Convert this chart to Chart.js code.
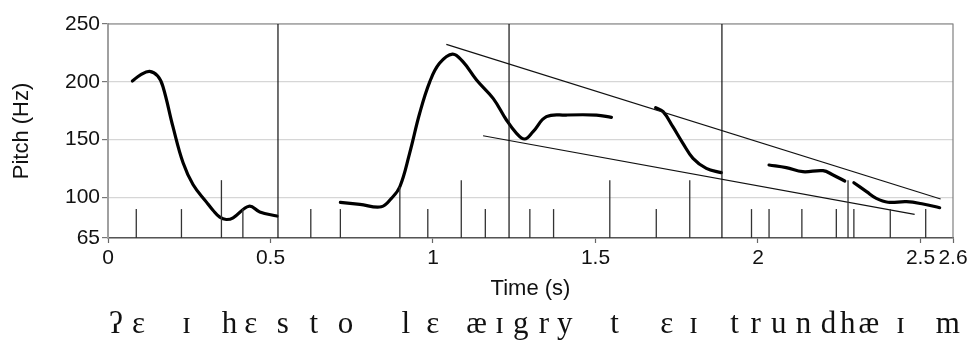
<!DOCTYPE html>
<html>
<head>
<meta charset="utf-8">
<script src="https://cdn.jsdelivr.net/npm/chart.js@4.4.0/dist/chart.umd.min.js"></script>
<style>
html,body{margin:0;padding:0;background:#fff;}
#wrap{width:974px;height:341px;}
</style>
</head>
<body>
<div id="wrap"><canvas id="c" width="974" height="341"></canvas></div>
<script>
// ---- data ----
const xTicks = [0, 0.5, 1, 1.5, 2, 2.5, 2.6];
const yTicks = [65, 100, 150, 200, 250];
const yMin = 65, yMax = 250, xMin = 0, xMax = 2.6;

const seg1T  = [0.075, 0.10, 0.128, 0.153, 0.169, 0.20, 0.231, 0.262, 0.303, 0.323, 0.344, 0.364, 0.385, 0.434, 0.467, 0.52];
const seg1Hz = [200.7, 206, 209, 205, 196, 161, 130, 111, 96, 89, 83, 81, 82.5, 92.5, 87.5, 84];
const seg2T  = [0.715, 0.775, 0.841, 0.872, 0.898, 0.928, 0.959, 0.99, 1.02, 1.06, 1.092, 1.134, 1.185, 1.226, 1.257, 1.282, 1.308, 1.349, 1.41, 1.503, 1.549];
const seg2Hz = [95.8, 94.1, 92, 99.3, 109.3, 138.2, 172.8, 200, 216, 224, 217.4, 201.6, 185.7, 167, 155.5, 150.6, 157, 169.9, 171.3, 171.3, 169.3];
const seg3T  = [1.685, 1.708, 1.738, 1.769, 1.8, 1.841, 1.887];
const seg3Hz = [177.6, 174.2, 161.2, 146.8, 133.9, 125.2, 121.5];
const seg4T  = [2.034, 2.087, 2.138, 2.2, 2.231, 2.267];
const seg4Hz = [128.1, 125.8, 122.3, 123.2, 119.5, 114.3];
const seg5T  = [2.295, 2.334, 2.364, 2.4, 2.457, 2.508, 2.559];
const seg5Hz = [112.8, 105.1, 99.3, 95.9, 96.4, 94.4, 91.2];

// segment boundary marks: time and top value (Hz)
const boundT   = [0.087, 0.226, 0.349, 0.415, 0.624, 0.715, 0.898, 0.984, 1.087, 1.161, 1.298, 1.371, 1.544, 1.687, 1.79, 1.98, 2.034, 2.135, 2.241, 2.277, 2.295, 2.407, 2.516];
const boundTop = [90, 90, 115, 90, 90, 90, 109, 90, 115, 90, 90, 90, 115, 90, 115, 90, 90, 90, 90, 115, 90, 90, 90];
// full-height phrase boundaries
const phraseT = [0.523, 1.234, 1.889];

// declination lines
const upperLineT = [1.041, 2.562], upperLineHz = [232.4, 98.7];
const lowerLineT = [1.154, 2.482], lowerLineHz = [153.4, 85.5];

// transcription
const phones  = ['ʔ','ɛ','ɪ','h','ɛ','s','t','o','l','ɛ','æ','ɪ','g','r','y','t','ɛ','ɪ','t','r','u','n','d','h','æ','ɪ','m'];
const phoneT  = [0.024,0.094,0.242,0.374,0.439,0.538,0.633,0.731,0.916,0.999,1.134,1.205,1.270,1.341,1.405,1.559,1.719,1.802,1.928,1.993,2.064,2.140,2.217,2.276,2.341,2.439,2.584];

// ---- build datasets ----
const zip = (t, v) => t.map((x, i) => ({x: x, y: v[i]}));
const datasets = [];
phraseT.forEach(t => datasets.push({data: [{x:t,y:yMin},{x:t,y:yMax}], borderColor:'#111', borderWidth:1.2, pointRadius:0, tension:0}));
boundT.forEach((t, i) => datasets.push({data: [{x:t,y:yMin},{x:t,y:boundTop[i]}], borderColor:'#333', borderWidth:1.3, pointRadius:0, tension:0}));
datasets.push({data: zip(upperLineT, upperLineHz), borderColor:'#111', borderWidth:1.2, pointRadius:0, tension:0});
datasets.push({data: zip(lowerLineT, lowerLineHz), borderColor:'#111', borderWidth:1.2, pointRadius:0, tension:0});
[[seg1T,seg1Hz],[seg2T,seg2Hz],[seg3T,seg3Hz],[seg4T,seg4Hz],[seg5T,seg5Hz]].forEach(([t,v]) =>
  datasets.push({data: zip(t, v), borderColor:'#000', borderWidth:3.2, pointRadius:0, tension:0.4, borderCapStyle:'round', borderJoinStyle:'round'}));

const framePlugin = {
  id: 'frame',
  beforeDatasetsDraw(chart) {
    const {ctx, chartArea: a} = chart;
    ctx.save();
    ctx.strokeStyle = '#808080';
    ctx.lineWidth = 1.2;
    ctx.beginPath();
    ctx.moveTo(a.left, a.top); ctx.lineTo(a.right, a.top); ctx.lineTo(a.right, a.bottom);
    ctx.stroke();
    ctx.restore();
  }
};
const phonePlugin = {
  id: 'phones',
  afterDraw(chart) {
    const {ctx} = chart;
    const xs = chart.scales.x;
    ctx.save();
    ctx.font = '31px "Liberation Serif", "DejaVu Serif", serif';
    ctx.fillStyle = '#111';
    ctx.textAlign = 'center';
    ctx.textBaseline = 'alphabetic';
    phones.forEach((p, i) => ctx.fillText(p, xs.getPixelForValue(phoneT[i]), 333));
    ctx.restore();
  }
};

const tickFont = {family: '"Liberation Sans", Arial, sans-serif', size: 21};
const titleFont = {family: '"Liberation Sans", Arial, sans-serif', size: 22};

new Chart(document.getElementById('c'), {
  type: 'line',
  data: {datasets: datasets},
  plugins: [framePlugin, phonePlugin],
  options: {
    responsive: false,
    animation: false,
    devicePixelRatio: 1,
    layout: {padding: {top: 24, right: 21, left: 0, bottom: 0}},
    plugins: {legend: {display: false}, tooltip: {enabled: false}},
    scales: {
      x: {
        type: 'linear', min: xMin, max: xMax,
        afterBuildTicks: s => { s.ticks = xTicks.map(v => ({value: v})); },
        afterFit: s => { s.height = 103; },
        ticks: {autoSkip: false, maxRotation: 0, padding: 3, color: '#111', font: tickFont, callback: v => String(v)},
        grid: {drawOnChartArea: false, drawTicks: true, tickLength: 5, tickColor: '#666', tickWidth: 1.2},
        border: {display: true, color: '#555', width: 1.5},
        title: {display: true, text: 'Time (s)', color: '#111', font: titleFont, padding: {top: 0, bottom: 39}}
      },
      y: {
        type: 'linear', min: yMin, max: yMax,
        afterBuildTicks: s => { s.ticks = yTicks.map(v => ({value: v})); },
        afterFit: s => { s.width = 108; },
        ticks: {autoSkip: false, padding: 2, color: '#111', font: tickFont, callback: v => String(v)},
        grid: {color: '#d6d6d6', lineWidth: 1.2, drawTicks: true, tickLength: 6, tickColor: '#777', tickWidth: 1.2},
        border: {display: true, color: '#a0a0a0', width: 2},
        title: {display: true, text: 'Pitch (Hz)', color: '#111', font: titleFont, padding: {top: 9, bottom: 0}}
      }
    }
  }
});
</script>
</body>
</html>
